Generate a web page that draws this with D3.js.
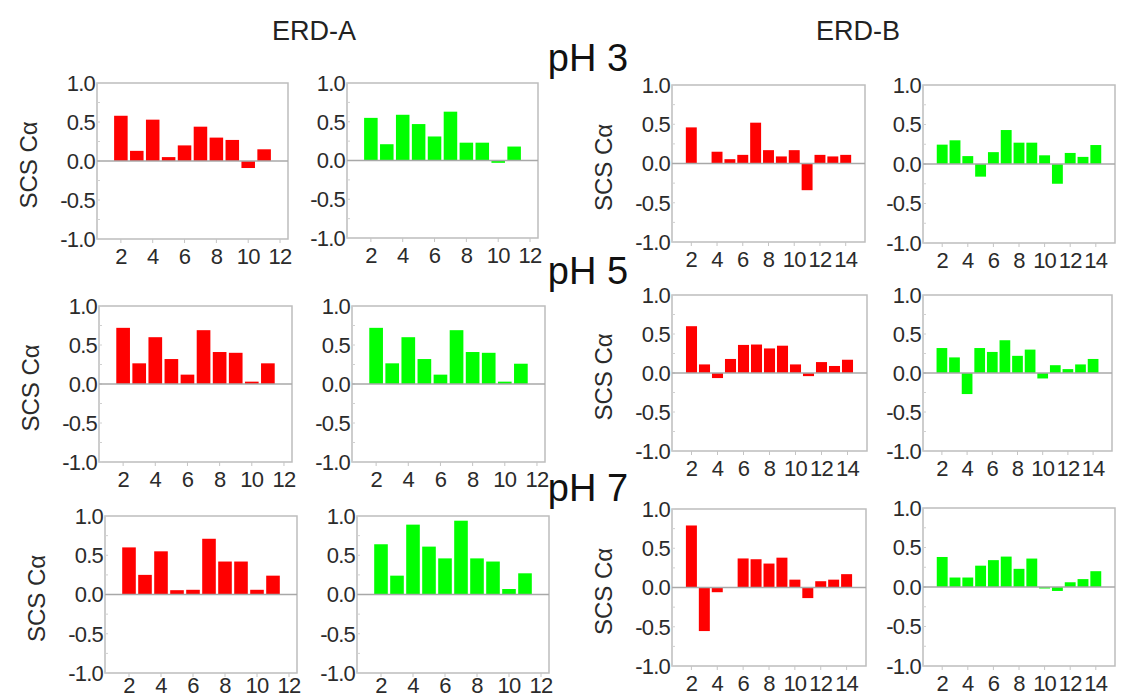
<!DOCTYPE html>
<html><head><meta charset="utf-8">
<script src="https://cdn.jsdelivr.net/npm/d3@7"></script>
<style>body{margin:0;background:#fff}svg{display:block}</style>
</head><body>
<script>
// residues
const residuesA = [2,3,4,5,6,7,8,9,10,11];
const residuesB = [2,3,4,5,6,7,8,9,10,11,12,13,14];
const xTicksA = [2,4,6,8,10,12];
const xTicksB = [2,4,6,8,10,12,14];
const yTicks = [-1.0,-0.5,0.0,0.5,1.0];
const yMinorTicks = [-0.75,-0.25,0.25,0.75];
const columnTitles = ["ERD-A","ERD-B"];
const rowTitles = ["pH 3","pH 5","pH 7"];
const yLabel = "SCS Cα";

// ERD-A values (residues 2..11)
const erdA_pH3_red   = [0.58,0.13,0.53,0.05,0.20,0.44,0.30,0.27,-0.09,0.15];
const erdA_pH3_green = [0.55,0.21,0.59,0.47,0.31,0.63,0.23,0.23,-0.03,0.18];
const erdA_pH5_red   = [0.72,0.265,0.60,0.32,0.12,0.69,0.41,0.40,0.03,0.265];
const erdA_pH5_green = [0.72,0.265,0.60,0.32,0.12,0.69,0.41,0.40,0.03,0.26];
const erdA_pH7_red   = [0.60,0.25,0.55,0.055,0.06,0.71,0.42,0.42,0.06,0.24];
const erdA_pH7_green = [0.64,0.24,0.89,0.61,0.46,0.94,0.46,0.42,0.07,0.27];
// ERD-B values (residues 2..14), null = no bar
const erdB_pH3_red   = [0.46,null,0.15,0.055,0.11,0.52,0.17,0.09,0.17,-0.34,0.11,0.09,0.11];
const erdB_pH3_green = [0.245,0.30,0.10,-0.16,0.15,0.43,0.27,0.27,0.11,-0.25,0.14,0.09,0.24];
const erdB_pH5_red   = [0.60,0.11,-0.065,0.18,0.36,0.365,0.315,0.35,0.11,-0.04,0.14,0.09,0.17];
const erdB_pH5_green = [0.32,0.20,-0.27,0.32,0.27,0.42,0.22,0.30,-0.07,0.10,0.05,0.11,0.18];
const erdB_pH7_red   = [0.79,-0.555,-0.06,null,0.37,0.36,0.305,0.38,0.10,-0.135,0.08,0.10,0.17];
const erdB_pH7_green = [0.38,0.12,0.12,0.27,0.34,0.385,0.23,0.36,-0.01,-0.05,0.06,0.10,0.20];

const RED = "#ff0000", GREEN = "#00ff00";

const W = 1121, H = 697;
const svg = d3.select("body").append("svg").attr("width", W).attr("height", H)
  .style("font-family", "'Liberation Sans', Arial, sans-serif");

// layout (box positions)
const panels = [
  {x0:97,  x1:288,  y0:83,  y1:239, res:residuesA, vals:erdA_pH3_red,   color:RED,   dom:[0.5,12.5], ticks:xTicksA, ylab:true},
  {x0:347, x1:538,  y0:83,  y1:238, res:residuesA, vals:erdA_pH3_green, color:GREEN, dom:[0.5,12.5], ticks:xTicksA, ylab:false},
  {x0:672, x1:865,  y0:85,  y1:242, res:residuesB, vals:erdB_pH3_red,   color:RED,   dom:[0.5,15.5], ticks:xTicksB, ylab:true},
  {x0:923, x1:1115, y0:85,  y1:243, res:residuesB, vals:erdB_pH3_green, color:GREEN, dom:[0.5,15.5], ticks:xTicksB, ylab:false},
  {x0:99,  x1:292,  y0:306, y1:462, res:residuesA, vals:erdA_pH5_red,   color:RED,   dom:[0.5,12.5], ticks:xTicksA, ylab:true},
  {x0:352, x1:545,  y0:306, y1:462, res:residuesA, vals:erdA_pH5_green, color:GREEN, dom:[0.5,12.5], ticks:xTicksA, ylab:false},
  {x0:672, x1:867,  y0:295, y1:451, res:residuesB, vals:erdB_pH5_red,   color:RED,   dom:[0.5,15.5], ticks:xTicksB, ylab:true},
  {x0:923, x1:1112, y0:295, y1:451, res:residuesB, vals:erdB_pH5_green, color:GREEN, dom:[0.5,15.5], ticks:xTicksB, ylab:false},
  {x0:105, x1:297,  y0:516, y1:673, res:residuesA, vals:erdA_pH7_red,   color:RED,   dom:[0.5,12.5], ticks:xTicksA, ylab:true},
  {x0:357, x1:549,  y0:516, y1:673, res:residuesA, vals:erdA_pH7_green, color:GREEN, dom:[0.5,12.5], ticks:xTicksA, ylab:false},
  {x0:672, x1:866,  y0:509, y1:666, res:residuesB, vals:erdB_pH7_red,   color:RED,   dom:[0.5,15.5], ticks:xTicksB, ylab:true},
  {x0:923, x1:1115, y0:508, y1:666, res:residuesB, vals:erdB_pH7_green, color:GREEN, dom:[0.5,15.5], ticks:xTicksB, ylab:false}
];

const TXT = "#2b2b2b";
const fmt = d => d3.format(".1f")(d).replace("−", "-");
panels.forEach(p => {
  const g = svg.append("g");
  const x = d3.scaleLinear().domain(p.dom).range([p.x0, p.x1]);
  const y = d3.scaleLinear().domain([-1, 1]).range([p.y1, p.y0]);
  const unit = x(1) - x(0);
  const bw = unit * 0.85;

  // box
  g.append("rect").attr("x", p.x0).attr("y", p.y0)
    .attr("width", p.x1 - p.x0).attr("height", p.y1 - p.y0)
    .attr("fill", "none").attr("stroke", "#bdbdbd").attr("stroke-width", 1.5);

  // minor y ticks
  g.selectAll(".ymin").data(yMinorTicks.concat(yTicks)).enter().append("line")
    .attr("x1", p.x0).attr("x2", p.x0 + 3)
    .attr("y1", d => y(d)).attr("y2", d => y(d))
    .attr("stroke", "#d0d0d0").attr("stroke-width", 1);

  // bars
  const data = p.res.map((r, i) => ({r, v: p.vals[i]})).filter(d => d.v !== null);
  g.selectAll(".bar").data(data).enter().append("rect")
    .attr("x", d => x(d.r) - bw / 2)
    .attr("width", bw)
    .attr("y", d => y(Math.max(0, d.v)))
    .attr("height", d => Math.max(1.5, Math.abs(y(d.v) - y(0))))
    .attr("fill", p.color);

  // zero line
  g.append("line").attr("x1", p.x0).attr("x2", p.x1)
    .attr("y1", y(0)).attr("y2", y(0))
    .attr("stroke", "#a8a8a8").attr("stroke-width", 1.5);

  // y tick labels
  g.selectAll(".yl").data(yTicks).enter().append("text")
    .attr("x", p.x0 - 2).attr("y", d => y(d))
    .attr("dy", "0.36em").attr("text-anchor", "end")
    .attr("font-size", 22).attr("fill", TXT).attr("letter-spacing", "-0.8px")
    .text(fmt);

  // x ticks
  g.selectAll(".xt").data(p.ticks).enter().append("line")
    .attr("x1", d => x(d)).attr("x2", d => x(d))
    .attr("y1", p.y1).attr("y2", p.y1 + 4)
    .attr("stroke", "#c4c4c4").attr("stroke-width", 1);
  g.selectAll(".xl").data(p.ticks).enter().append("text")
    .attr("x", d => x(d)).attr("y", Math.min(p.y1 + 17, H - 12))
    .attr("dy", "0.36em").attr("text-anchor", "middle")
    .attr("font-size", 22).attr("fill", TXT).attr("letter-spacing", "-0.8px")
    .text(d => d);

  if (p.ylab) {
    const cx = p.x0 - 69, cy = (p.y0 + p.y1) / 2 + 4;
    g.append("text").attr("transform", `translate(${cx},${cy}) rotate(-90)`)
      .attr("text-anchor", "middle").attr("dy", "0.36em")
      .attr("font-size", 24).attr("fill", TXT).text(yLabel);
  }
});

// column titles
svg.append("text").attr("x", 314).attr("y", 30).attr("dy", "0.36em")
  .attr("text-anchor", "middle").attr("font-size", 27).attr("fill", "#222").text(columnTitles[0]);
svg.append("text").attr("x", 858).attr("y", 30).attr("dy", "0.36em")
  .attr("text-anchor", "middle").attr("font-size", 27).attr("fill", "#222").text(columnTitles[1]);

// row titles
const rowY = [57, 270, 487];
rowTitles.forEach((t, i) => {
  svg.append("text").attr("x", 588).attr("y", rowY[i]).attr("dy", "0.36em")
    .attr("text-anchor", "middle").attr("font-size", 38).attr("fill", "#111").text(t);
});
</script>
</body></html>
